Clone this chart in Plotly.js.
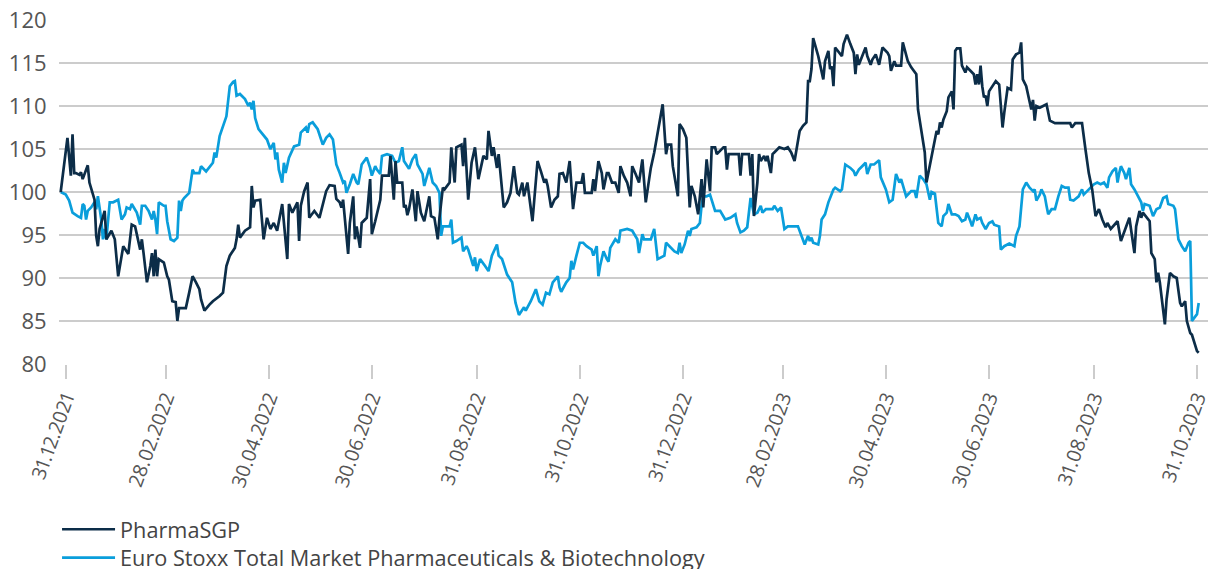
<!DOCTYPE html>
<html>
<head>
<meta charset="utf-8">
<script src="https://cdn.plot.ly/plotly-3.0.1.min.js"></script>
<style>
html,body{margin:0;padding:0;background:#fff;}
#chart{width:1208px;height:569px;}
#chart .xtick text{font-variant-numeric:proportional-nums;font-feature-settings:"pnum" 1;}
</style>
</head>
<body>
<div id="chart"></div>
<script>
// Day offsets relative to 31.12.2021 and index values (start = 100)
const pharmaDays = [-3,1,3,4,5,6,8,9,10,13,14,17,18,19,20,23,24,27,29,31,34,37,39,41,44,45,46,48,50,51,52,53,54,55,58,60,61,63,65,66,67,71,73,75,77,79,80,82,85,87,91,93,95,97,100,101,102,103,106,109,110,111,112,115,117,119,121,123,125,127,128,131,132,134,137,138,139,141,143,144,147,150,152,154,156,159,160,162,163,164,167,168,170,171,172,174,175,178,180,181,183,186,187,191,192,194,195,196,199,200,201,202,203,205,207,208,210,212,215,216,218,220,221,223,224,227,228,230,231,234,235,236,238,240,242,244,247,249,250,252,253,255,256,259,261,263,265,267,268,270,271,273,276,277,279,281,283,284,285,287,289,291,292,294,296,298,300,302,305,306,307,311,312,313,315,317,318,320,321,323,325,327,328,330,332,334,335,337,339,341,343,345,346,348,350,353,355,356,358,359,362,363,365,367,369,370,372,374,376,377,379,381,382,384,385,389,390,391,392,398,399,400,404,405,406,407,409,410,411,413,414,415,417,418,419,422,425,427,429,431,434,436,438,439,440,441,442,445,448,449,451,452,453,454,455,459,460,462,464,466,467,468,469,471,473,474,476,477,479,481,482,483,486,487,488,490,491,494,495,498,500,503,504,506,508,509,511,513,515,516,517,518,519,521,522,524,525,526,527,529,530,532,533,535,537,538,539,540,541,542,543,544,545,546,548,550,552,554,555,557,559,560,562,564,565,566,568,569,571,572,573,574,576,578,580,582,585,594,595,597,601,603,605,607,609,611,613,615,616,618,620,622,624,626,629,632,633,635,636,637,641,642,644,645,646,647,648,650,651,653,655,657,659,660,662,663,665,666,669,670];
const pharmaValues = [100,106.3,101.9,106.7,102.2,102.2,102.0,102.3,101.5,103.1,
101.1,99.1,94.9,93.7,95.7,97.8,94.5,95.5,94.5,90.2,
93.7,92.8,96.2,96.0,93.3,94.5,92.9,89.5,91.4,92.9,
90.2,93.3,90.2,92.2,91.8,90.2,89.8,87.3,87.2,85.0,
86.5,86.5,88.3,90.2,89.5,88.7,87.5,86.2,86.9,87.3,
87.9,88.3,91.4,92.6,93.5,94.5,96.2,94.7,95.5,95.9,
100.7,98.2,99.0,99.1,94.5,97.0,95.7,96.4,95.5,97.6,
98.6,92.2,98.6,97.6,98.8,94.3,98.4,100.1,101.1,97.0,
97.8,97.0,98.4,100.1,100.8,100.7,99.2,98.8,98.2,99.1,
92.8,96.4,99.5,94.5,96.0,93.5,96.4,97.0,101.5,95.1,
96.6,99.1,101.9,101.9,104.2,99.1,103.6,101.1,101.1,98.2,
98.5,97.3,98.0,100.3,96.6,100.1,97.6,96.6,99.5,97.2,
97.0,94.5,97.0,100.5,100.3,101.1,105.2,101.1,105.2,105.5,
103.0,106.3,99.1,103.4,105.2,101.5,104.2,103.8,107.1,104.2,
105.2,102.8,104.4,98.2,98.8,99.9,103.0,99.9,99.7,101.1,
99.5,101.1,96.6,99.0,103.6,102.4,101.1,101.5,100.7,98.2,
99.1,99.5,102.1,102.2,101.1,103.6,98.0,101.1,101.1,102.2,
99.9,99.9,101.5,100.1,103.6,102.2,100.3,102.2,102.2,101.1,
101.1,99.9,103.0,101.9,101.1,99.5,103.0,102.1,101.1,103.8,
98.8,101.5,102.8,104.6,106.7,110.2,104.4,105.5,105.5,103.0,
99.5,107.9,107.3,106.3,98.2,100.7,99.5,97.4,101.5,98.2,
103.8,100.1,105.2,105.2,104.4,105.2,105.2,102.6,104.4,104.4,
101.9,104.4,104.4,101.9,104.4,97.2,101.1,104.4,103.6,104.2,
103.6,104.2,102.2,104.4,104.6,105.2,105.0,105.2,104.6,103.6,
107.1,107.7,108.1,112.9,112.9,114.3,117.9,115.8,113.1,115.2,
116.4,114.3,114.6,112.3,116.8,115.8,117.2,118.3,117.2,116.2,
113.7,116.0,114.8,115.8,116.8,115.8,114.8,115.4,116.0,114.8,
116.0,116.8,116.2,115.8,114.1,115.2,114.7,114.7,117.4,115.2,
114.5,113.7,109.6,106.9,104.6,101.1,103.0,105.0,107.1,106.7,
108.1,107.5,108.4,109.4,111.0,111.7,109.6,116.4,116.7,116.7,
114.7,113.9,114.5,114.1,113.7,112.5,113.7,112.5,114.7,112.3,
111.0,111.2,110.0,111.7,112.3,112.9,112.5,107.5,109.2,112.1,
111.9,115.4,116.0,116.2,117.4,113.1,112.3,111.4,109.6,110.7,
108.3,110.0,109.8,110.0,110.2,108.3,108.0,108.0,107.5,108.0,
108.0,105.0,102.2,100.3,97.2,98.0,96.8,95.9,96.4,95.7,
96.2,96.6,94.3,95.3,97.0,92.9,96.0,97.8,97.0,97.6,
96.6,92.9,92.2,89.5,90.6,89.5,87.9,84.6,87.5,90.6,
90.2,90.0,87.1,86.7,87.3,85.0,83.6,83.4,81.5,81.3];

const stoxxDays = [-3,0,2,4,7,9,10,11,12,13,15,17,18,19,21,22,23,24,26,28,31,33,35,36,38,39,42,44,45,47,49,51,52,53,54,55,58,59,60,62,64,66,67,68,69,70,73,75,76,79,80,83,87,88,89,91,95,97,99,100,101,103,106,108,109,110,111,112,114,117,119,121,123,124,125,126,128,129,130,132,135,138,139,142,143,144,146,149,151,152,154,156,158,160,162,164,165,166,168,170,172,173,175,178,180,181,183,184,186,187,190,193,195,197,199,200,203,205,207,208,211,212,215,217,219,221,222,223,227,228,229,231,234,235,237,238,241,242,243,245,248,250,252,255,256,258,261,264,266,268,271,272,275,278,280,282,284,286,288,291,292,293,296,298,299,300,302,304,306,308,311,312,314,315,316,318,320,321,322,325,327,328,332,335,338,339,341,342,346,348,350,354,355,358,360,362,363,364,366,368,369,370,373,375,376,377,379,381,384,387,390,393,396,397,399,401,403,405,406,407,409,411,412,414,418,419,421,423,425,427,433,435,437,439,440,441,442,445,446,447,449,451,454,455,458,459,461,464,466,467,469,471,473,474,476,478,480,481,482,485,487,489,491,493,494,496,497,500,502,503,505,507,509,511,512,514,516,518,519,521,522,524,526,528,530,532,533,535,536,538,539,541,542,544,546,548,549,552,553,555,558,561,562,564,566,568,570,572,573,574,576,577,579,580,581,583,585,587,589,591,593,594,596,599,601,602,605,608,610,612,614,616,617,619,621,622,623,624,626,627,629,630,632,634,636,637,638,641,643,645,647,649,651,652,655,656,658,660,662,664,665,666,669,670];
const stoxxValues = [100,99.7,99,97.6,97.2,97,98.6,98.4,96.8,97.8,
98.2,98.8,98,99.5,96.8,94.5,95.7,94.5,98.8,98.8,
99.1,96.8,97.4,98.2,98,98.6,97.6,96.2,98.4,98.4,
97.8,96.8,97.8,96.8,95.1,98.8,98.4,98.4,96.6,94.5,
94.3,94.7,99,97.8,99,99.3,99.9,102.6,102.2,102.2,
103,102.4,103.4,104.6,104,106.5,108.8,112.3,112.8,112.9,
111.2,111.4,110.8,110,110.4,109.6,110.6,108.6,107.3,106.5,
106.1,105,105.7,103.8,104.6,102.6,101.1,103.4,102.2,104,
105.3,105.5,106.9,107.5,106.9,107.9,108.1,107.3,105.9,105.5,
106.3,106.7,106.1,103.2,102.2,101.1,101.3,99.9,100.9,102.1,
101.1,100.9,103.2,104,102.8,101.9,103,102.6,102.1,104.2,
104.4,104.2,103.4,103.6,105.2,103.6,102.7,103.8,104.4,103.2,
102.1,100.7,102.8,101.1,100.7,99.9,94.9,96,96,96.8,
94.1,94.3,94.7,93.1,93.7,93.3,91.4,92.4,90.8,92.2,
91.4,90.8,92.6,93.9,92.6,92.2,90.4,89.5,87.1,85.7,
86.6,86.2,87.3,88.7,87.3,86.9,88.3,88.1,89.5,90.2,
88.9,88.4,89.5,90,92,91,92.6,94.1,94.1,93.7,
93.3,92.6,93.7,90.2,91.4,93.1,92.2,91.9,93.5,94.5,
94.1,95.5,95.7,95.5,94.5,92.9,95.1,94.5,94.5,95.7,
92.2,92.6,94.1,93.5,93.1,92.9,94.1,92.9,93.9,95.5,
94.9,95.7,95.9,96.4,98.4,99.5,99.5,99.7,97.8,97.8,
96.8,97,97.4,96.4,95.3,95.5,95.9,99.3,98.2,97.4,
97.6,98.4,97.6,98,98,98.4,97.8,98.2,95.7,96,
96,94.9,93.9,94.9,94.3,94.7,94.1,93.9,94.9,96.8,
97.4,98.8,100.3,100.5,100.1,100.3,103.2,102.8,102.4,101.9,
102.6,103,103.4,102.1,103.2,103.2,103.6,103.7,101.7,100.3,
98.8,99.1,102.1,101.1,101.5,100.3,99.5,100.1,100.1,99.3,
101.9,101.5,100.9,99.1,100,99.8,96.4,96,97.2,97.6,
98.6,97.4,97.4,97.2,96.6,96.8,97.6,96.6,96,97.4,
96.8,97,96.4,95.7,96.4,96.6,96.2,96,93.3,93.7,
94,93.7,94.9,96,100.3,101.1,100.5,100.1,100.3,99,
99.7,100.3,99.5,98.4,97.4,98,98,99.5,100.7,100.5,
100.5,99.1,99,99.5,100.3,99.7,100.3,100.9,101.1,100.9,
101.1,100.5,101.7,102.4,102.8,101.1,102.2,103,102.2,101.5,
102.8,100.9,100.3,99.5,98.8,97.8,98.6,98.4,97.2,98,
98.2,99.3,99.5,98.6,98.4,98,94.5,93.7,93.1,94.1,
94.3,85,85.8,87.1];

const tickDates = ['2021-12-31','2022-02-28','2022-04-30','2022-06-30','2022-08-31','2022-10-31','2022-12-31','2023-02-28','2023-04-30','2023-06-30','2023-08-31','2023-10-31'];
const tickLabels = ['31.12.2021','28.02.2022','30.04.2022','30.06.2022','31.08.2022','31.10.2022','31.12.2022','28.02.2023','30.04.2023','30.06.2023','31.08.2023','31.10.2023'];
const seriesNames = ['PharmaSGP','Euro Stoxx Total Market Pharmaceuticals & Biotechnology'];

const base = Date.UTC(2021, 11, 31);
function toDate(d){ return new Date(base + d*86400000).toISOString().slice(0,10); }

const traces = [
  {x: stoxxDays.map(toDate), y: stoxxValues, name: seriesNames[1], type:'scatter', mode:'lines',
   legend:'legend2', line:{color:'#0a9edb', width:2.7}},
  {x: pharmaDays.map(toDate), y: pharmaValues, name: seriesNames[0], type:'scatter', mode:'lines',
   legend:'legend', line:{color:'#0c2d48', width:2.7}}
];

const legendBase = {orientation:'v', xref:'paper', yref:'container', x:-0.0017, xanchor:'left', yanchor:'top',
  font:{size:21.7, color:'#444'}, itemwidth:53, bgcolor:'rgba(0,0,0,0)'};

const layout = {
  width:1208, height:569,
  margin:{l:59, r:0, t:20, b:205, autoexpand:false},
  paper_bgcolor:'#fff', plot_bgcolor:'#fff',
  font:{family:'"Open Sans", sans-serif', color:'#555'},
  showlegend:true,
  legend: Object.assign({}, legendBase, {y:0.1061}),
  legend2: Object.assign({}, legendBase, {y:0.0562}),
  xaxis:{type:'date', range:['2021-12-27','2023-11-06 12:00'], tickmode:'array', tickvals:tickDates, ticktext:tickLabels,
         tickangle:-70, ticks:'outside', ticklen:14, tickwidth:2, tickcolor:'#cccccc', automargin:false,
         ticklabeloverflow:'allow',
         showgrid:false, zeroline:false, showline:false, tickfont:{size:19.5, color:'#555'}, fixedrange:true},
  yaxis:{range:[80,120], dtick:5, tick0:80, gridcolor:'#cccccc', gridwidth:2, zeroline:false, showline:false, automargin:false,
         ticks:'outside', ticklen:7, tickcolor:'rgba(0,0,0,0)', tickfont:{size:22, color:'#555'}, fixedrange:true}
};

Plotly.newPlot('chart', traces, layout, {displayModeBar:false, staticPlot:true});
</script>
</body>
</html>
